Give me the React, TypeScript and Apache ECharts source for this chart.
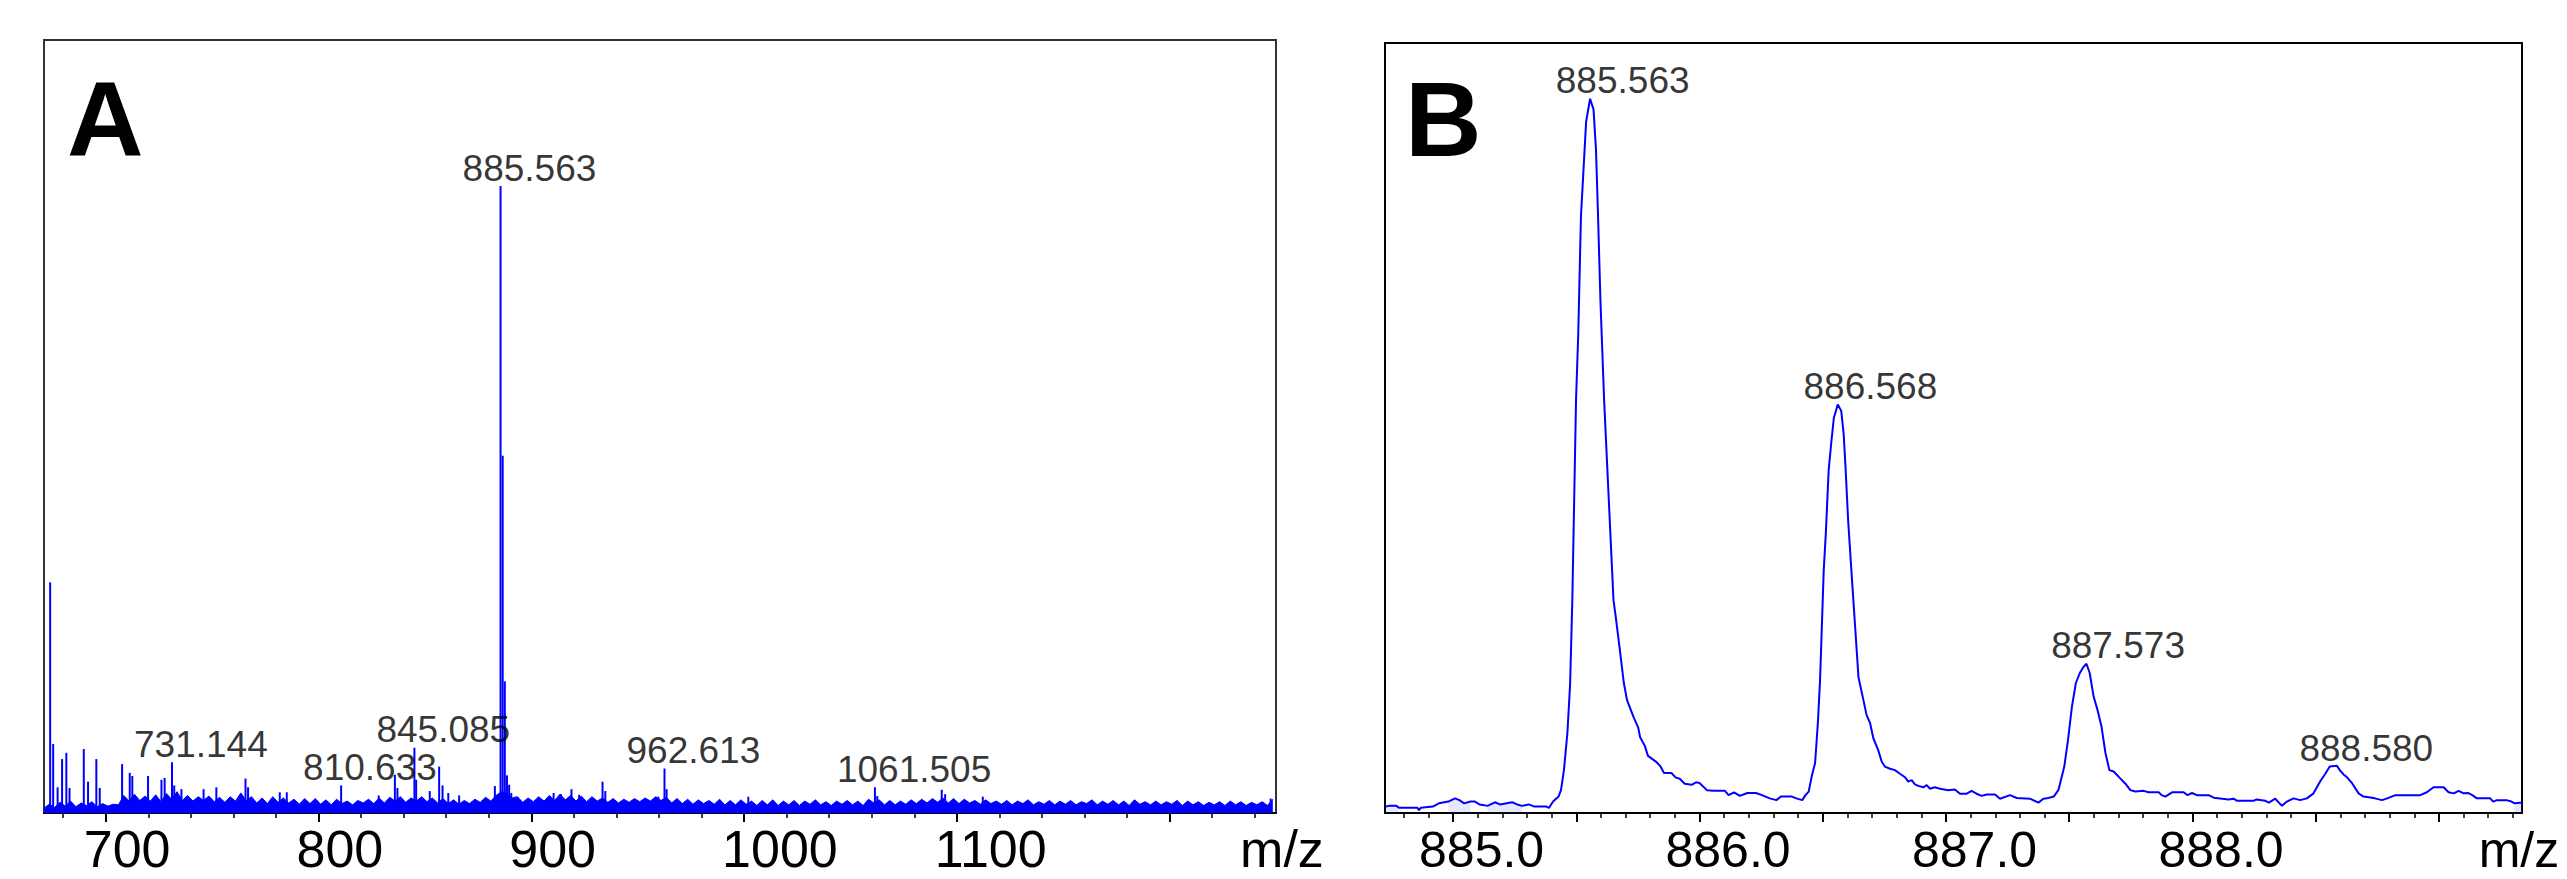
import React, { useEffect, useRef } from "react";
import * as echarts from "echarts";

// ---------------- Panel A : full MS spectrum ----------------
const A_RANGE = [671, 1250];
const A_Y_MAX = 123.3;
const A_MAJOR_TICKS = [700, 800, 900, 1000, 1100, 1200];
const A_MINOR_TICKS = [680, 720, 740, 760, 780, 820, 840, 860, 880, 920, 940, 960, 980, 1020, 1040, 1060, 1080, 1120, 1140, 1160, 1180, 1220, 1240];
const A_TICK_LABELS = [700, 800, 900, 1000, 1100];

// baseline noise sampled every 2.5 m/z from 671
const A_NOISE_START = 671;
const A_NOISE_STEP = 2.5;
const A_NOISE = [
  0.8, 1.4, 0.9, 1.7, 1.1, 1.9, 1.0, 1.6, 1.2, 1.8,
  1.0, 1.5, 1.1, 1.4, 1.3, 2.8, 1.9, 3.0, 2.0, 2.7,
  1.9, 2.9, 1.8, 3.1, 2.2, 3.4, 2.0, 2.8, 1.9, 2.6,
  2.0, 2.7, 1.8, 2.5, 1.7, 2.6, 1.9, 3.2, 2.0, 2.6,
  1.6, 2.4, 1.5, 2.6, 1.7, 2.4, 1.6, 2.2, 1.4, 2.3,
  1.5, 2.3, 1.4, 2.1, 1.3, 2.2, 1.5, 1.9, 1.3, 2.0,
  1.6, 2.2, 1.5, 2.4, 1.6, 2.5, 1.9, 2.6, 1.7, 2.4,
  1.9, 2.6, 1.8, 2.4, 1.6, 2.3, 1.5, 2.1, 1.4, 2.0,
  1.5, 2.2, 1.7, 2.5, 1.9, 2.8, 3.4, 3.1, 2.4, 2.6,
  1.7, 2.4, 1.8, 2.6, 1.9, 2.8, 2.0, 3.0, 2.1, 2.8,
  1.9, 2.7, 1.8, 2.6, 1.9, 2.4, 1.7, 2.3, 1.6, 2.2,
  1.7, 2.3, 1.8, 2.4, 1.9, 2.6, 2.0, 2.5, 1.6, 2.3,
  1.5, 2.2, 1.4, 2.1, 1.5, 2.0, 1.4, 2.2, 1.3, 2.0,
  1.3, 2.1, 1.4, 1.9, 1.2, 2.0, 1.3, 2.1, 1.2, 1.9,
  1.3, 2.0, 1.2, 1.9, 1.4, 2.1, 1.3, 1.8, 1.2, 1.9,
  1.4, 2.0, 1.3, 1.9, 1.2, 2.2, 1.6, 2.1, 1.3, 2.0,
  1.3, 1.9, 1.4, 2.1, 1.5, 2.2, 1.6, 2.3, 1.7, 2.4,
  1.6, 2.3, 1.5, 2.2, 1.6, 2.0, 1.4, 2.1, 1.5, 1.9,
  1.4, 2.0, 1.3, 1.9, 1.5, 2.1, 1.3, 1.8, 1.4, 2.0,
  1.3, 1.9, 1.4, 2.0, 1.3, 1.8, 1.5, 2.1, 1.3, 1.9,
  1.4, 2.0, 1.3, 1.9, 1.2, 2.1, 1.4, 1.8, 1.3, 1.9,
  1.3, 1.8, 1.4, 2.0, 1.2, 1.9, 1.3, 1.8, 1.2, 1.7,
  1.3, 1.8, 1.2, 1.9, 1.3, 1.8, 1.2, 1.7, 1.3, 1.8,
  1.2, 2.2,
];

// centroid sticks [m/z, relative intensity %]
const A_STICKS = [
  [673.9, 36.8], [675.3, 11.0], [677.4, 4.1], [679.5, 8.6], [681.5, 9.6], [683.0, 4.0],
  [689.7, 10.2], [691.7, 5.0], [695.6, 8.6], [697.2, 4.0], [707.7, 7.8], [711.3, 6.4],
  [712.5, 5.9], [719.9, 5.9], [726.2, 5.3], [727.7, 5.6], [731.144, 8.1], [732.2, 4.4],
  [735.6, 3.8], [746.0, 3.8], [752.0, 4.1], [765.7, 5.5], [766.9, 4.1], [781.8, 3.3],
  [785.1, 3.3], [810.633, 4.4], [828.3, 2.8], [835.9, 6.1], [837.1, 4.0], [845.085, 10.4],
  [845.9, 5.3], [852.3, 3.5], [856.7, 7.4], [858.3, 4.4], [861.0, 3.2], [866.1, 2.8],
  [882.9, 4.3], [885.563, 100], [886.568, 57], [887.573, 21], [888.58, 6], [889.6, 4.5],
  [890.6, 3.2], [910.5, 3.2], [914.0, 3.0], [918.9, 3.8], [922.5, 2.9], [933.5, 5.0],
  [934.8, 3.5], [959.7, 2.6], [962.613, 7.1], [963.6, 3.8], [1002.0, 2.6], [1061.505, 4.1],
  [1062.6, 2.7], [1092.9, 3.7], [1094.5, 3.0], [1112.2, 2.6], [1247.5, 2.3],
];
const A_LABELED = [731.144, 810.633, 845.085, 885.563, 962.613, 1061.505];

// ---------------- Panel B : isotope cluster zoom ----------------
const B_RANGE = [884.724, 889.337];
const B_Y_MAX = 107.8;
const B_MAJOR_TICKS = [885.0, 885.5, 886.0, 886.5, 887.0, 887.5, 888.0, 888.5, 889.0];
const B_MINOR_TICKS = [
  884.8, 884.9, 885.1, 885.2, 885.3, 885.4, 885.6, 885.7, 885.8, 885.9,
  886.1, 886.2, 886.3, 886.4, 886.6, 886.7, 886.8, 886.9, 887.1, 887.2, 887.3, 887.4,
  887.6, 887.7, 887.8, 887.9, 888.1, 888.2, 888.3, 888.4, 888.6, 888.7, 888.8, 888.9,
  889.1, 889.2, 889.3,
];
const B_TICK_LABELS = [885.0, 886.0, 887.0, 888.0];

const B_PROFILE = [
  [884.727, 0.9], [884.74, 1.0], [884.77, 1.0], [884.78, 0.75], [884.855, 0.75], [884.862, 0.4],
  [884.87, 0.75], [884.918, 0.9], [884.943, 1.35], [884.981, 1.6], [885.008, 2.05], [885.026, 1.8],
  [885.045, 1.35], [885.071, 1.6], [885.089, 1.6], [885.107, 1.2], [885.126, 1.1], [885.14, 1.0],
  [885.17, 1.5], [885.19, 1.2], [885.24, 1.5], [885.26, 1.2], [885.28, 1.0], [885.307, 1.2],
  [885.33, 0.9], [885.379, 0.9], [885.389, 0.7], [885.406, 1.6], [885.428, 2.3], [885.438, 3.2],
  [885.45, 6.0], [885.464, 11.2], [885.475, 18.0], [885.484, 29.8], [885.499, 57.8], [885.508, 67],
  [885.519, 83.5], [885.53, 90.5], [885.54, 96.8], [885.556, 100], [885.57, 98.5], [885.58, 92.9],
  [885.588, 84], [885.598, 71.8], [885.613, 57.8], [885.651, 29.8], [885.66, 27.5], [885.677, 22.8],
  [885.693, 18.2], [885.706, 15.8], [885.733, 13.4], [885.751, 12.0], [885.759, 10.6], [885.777, 9.5],
  [885.791, 8.0], [885.823, 7.2], [885.84, 6.6], [885.856, 5.6], [885.886, 5.6], [885.904, 4.95],
  [885.92, 4.8], [885.94, 4.1], [885.968, 3.95], [885.986, 4.3], [886.0, 4.2], [886.03, 3.2],
  [886.058, 3.1], [886.103, 3.1], [886.118, 2.5], [886.14, 2.9], [886.164, 2.4], [886.194, 2.8],
  [886.229, 2.8], [886.253, 2.5], [886.285, 2.05], [886.312, 1.8], [886.33, 2.3], [886.375, 2.3],
  [886.393, 2.05], [886.417, 1.8], [886.43, 2.5], [886.443, 3.0], [886.455, 5.1], [886.469, 7.0],
  [886.48, 12.5], [886.489, 18.5], [886.504, 34], [886.513, 39.5], [886.524, 48], [886.535, 52],
  [886.545, 55.3], [886.561, 57.2], [886.575, 56.3], [886.585, 53], [886.593, 48], [886.603, 41],
  [886.618, 33], [886.645, 19], [886.665, 15.8], [886.678, 13.7], [886.692, 12.6], [886.705, 10.5],
  [886.725, 8.8], [886.739, 7.2], [886.752, 6.5], [886.773, 6.2], [886.793, 6.0], [886.813, 5.5],
  [886.834, 5.0], [886.847, 4.4], [886.861, 4.6], [886.874, 4.0], [886.888, 3.8], [886.908, 3.6],
  [886.922, 3.9], [886.935, 3.4], [886.955, 3.6], [886.976, 3.4], [887.009, 3.2], [887.036, 3.3],
  [887.057, 2.7], [887.084, 2.7], [887.104, 3.1], [887.124, 2.7], [887.145, 2.4], [887.165, 2.6],
  [887.199, 2.6], [887.219, 2.0], [887.26, 2.5], [887.287, 2.1], [887.341, 2.0], [887.375, 1.45],
  [887.395, 2.0], [887.41, 2.05], [887.437, 2.3], [887.456, 3.2], [887.48, 6.5], [887.495, 10.2],
  [887.511, 14.9], [887.527, 18.2], [887.543, 19.6], [887.559, 20.5], [887.57, 20.9], [887.583, 19.6],
  [887.599, 16.3], [887.615, 14.4], [887.631, 12.1], [887.647, 8.4], [887.663, 6.0], [887.68, 5.8],
  [887.7, 5.1], [887.728, 4.1], [887.748, 3.2], [887.768, 3.0], [887.802, 3.1], [887.822, 2.9],
  [887.863, 2.9], [887.875, 2.5], [887.89, 2.3], [887.917, 2.9], [887.964, 2.9], [887.98, 2.5],
  [887.998, 2.8], [888.018, 2.5], [888.066, 2.5], [888.086, 2.15], [888.147, 1.9], [888.167, 2.0],
  [888.181, 1.7], [888.248, 1.7], [888.26, 1.9], [888.296, 1.7], [888.31, 1.45], [888.336, 2.0],
  [888.363, 1.0], [888.383, 1.6], [888.41, 2.05], [888.437, 1.8], [888.464, 2.05], [888.491, 2.75],
  [888.518, 4.4], [888.539, 5.5], [888.557, 6.5], [888.586, 6.6], [888.6, 5.9], [888.613, 5.4],
  [888.627, 5.0], [888.647, 4.2], [888.674, 2.75], [888.694, 2.3], [888.715, 2.2], [888.74, 2.05],
  [888.769, 1.8], [888.79, 2.05], [888.823, 2.5], [888.924, 2.5], [888.951, 2.9], [888.978, 3.6],
  [889.019, 3.6], [889.039, 2.9], [889.06, 2.75], [889.08, 3.1], [889.1, 2.75], [889.12, 2.8],
  [889.135, 2.5], [889.154, 2.05], [889.208, 2.05], [889.22, 1.6], [889.235, 1.8], [889.274, 1.8],
  [889.294, 1.6], [889.307, 1.35], [889.327, 1.45], [889.337, 1.45],
];
const B_SHADED = [[884.727, 884.797], [884.972, 885.077], [885.13, 885.292], [889.307, 889.337]];
const B_LABELED = [[885.563, 100], [886.568, 57.2], [887.573, 20.9], [888.58, 6.6]];

// ---------------- layout / style ----------------
const BLUE = "#0000ff";
const ANNOT_FONT = "Liberation Sans";
const AXIS_FONT = "Liberation Sans";
const A_GRID = { left: 44, top: 40, width: 1232, height: 773 };
const B_GRID = { left: 1385, top: 43, width: 1137, height: 770 };
const A_LABEL_SHIFT_PX = 22;
const B_LABEL_SHIFT_PX = 34;

export default function App() {
  const ref = useRef<HTMLDivElement>(null);

  useEffect(() => {
    document.body.style.margin = "0";
    if (!ref.current) return;
    const chart = echarts.init(ref.current, undefined, { renderer: "svg" });

    const aSpan = A_RANGE[1] - A_RANGE[0];
    const aShift = (A_LABEL_SHIFT_PX * aSpan) / A_GRID.width;
    const bSpan = B_RANGE[1] - B_RANGE[0];
    const bShift = (B_LABEL_SHIFT_PX * bSpan) / B_GRID.width;

    const aNoise = A_NOISE.map((v, i) => [A_NOISE_START + i * A_NOISE_STEP, v]);
    const aLabels = A_LABELED.map((mz) => {
      const s = A_STICKS.find((p) => p[0] === mz);
      return [mz, s ? s[1] : 0];
    });
    const inShade = (x: number) => B_SHADED.some((r) => x >= r[0] && x <= r[1]);
    const bShade = B_PROFILE.map((p) => (inShade(p[0]) ? p : [p[0], "-"]));

    const baseAxis = (grid: number, range: number[]) => ({
      type: "value",
      gridIndex: grid,
      min: range[0],
      max: range[1],
      position: "bottom",
      splitLine: { show: false },
    });

    const majorAxis = (grid: number, range: number[], ticks: number[]) => ({
      ...baseAxis(grid, range),
      axisLine: { show: true, lineStyle: { color: "#000", width: 2 } },
      axisTick: { show: true, customValues: ticks, length: 9, lineStyle: { color: "#000", width: 2 } },
      axisLabel: { show: false },
    });
    const minorAxis = (grid: number, range: number[], ticks: number[]) => ({
      ...baseAxis(grid, range),
      axisLine: { show: false },
      axisTick: { show: true, customValues: ticks, length: 5, lineStyle: { color: "#000", width: 1.5 } },
      axisLabel: { show: false },
    });
    const labelAxis = (grid: number, range: number[], shift: number, labels: number[], fmt: (v: number) => string, size: number, margin: number, lineHeight: number) => ({
      ...baseAxis(grid, [range[0] + shift, range[1] + shift]),
      axisLine: { show: false },
      axisTick: { show: false },
      axisLabel: {
        show: true,
        customValues: labels,
        formatter: (v: number) => fmt(v),
        align: "left",
        margin,
        lineHeight,
        color: "#000",
        fontFamily: AXIS_FONT,
        fontSize: size,
      },
    });

    const peakLabel = (dx: number) => ({
      show: true,
      position: "top",
      align: "left",
      distance: 3.8,
      offset: [dx, 0],
      lineHeight: 28,
      color: "#000",
      fontFamily: ANNOT_FONT,
      fontSize: 37,
      formatter: (p: any) => Number(p.value[0]).toFixed(3),
    });

    chart.setOption({
      animation: false,
      backgroundColor: "#fff",
      grid: [
        { ...A_GRID, show: true, borderColor: "#333", borderWidth: 2, backgroundColor: "transparent", containLabel: false, outerBoundsMode: "none" },
        { ...B_GRID, show: true, borderColor: "#000", borderWidth: 2, backgroundColor: "transparent", containLabel: false, outerBoundsMode: "none" },
      ],
      xAxis: [
        majorAxis(0, A_RANGE, A_MAJOR_TICKS),
        minorAxis(0, A_RANGE, A_MINOR_TICKS),
        labelAxis(0, A_RANGE, aShift, A_TICK_LABELS, (v) => String(Math.round(v)), 52, 16, 40),
        majorAxis(1, B_RANGE, B_MAJOR_TICKS),
        minorAxis(1, B_RANGE, B_MINOR_TICKS),
        labelAxis(1, B_RANGE, bShift, B_TICK_LABELS, (v) => v.toFixed(1), 50, 19.5, 34),
      ],
      yAxis: [
        { type: "value", gridIndex: 0, min: 0, max: A_Y_MAX, show: false },
        { type: "value", gridIndex: 1, min: 0, max: B_Y_MAX, show: false },
      ],
      series: [
        {
          name: "A noise",
          type: "line",
          xAxisIndex: 0,
          yAxisIndex: 0,
          data: aNoise,
          symbol: "none",
          lineStyle: { color: BLUE, width: 1 },
          areaStyle: { color: BLUE, opacity: 1 },
          silent: true,
        },
        {
          name: "A sticks",
          type: "bar",
          xAxisIndex: 0,
          yAxisIndex: 0,
          data: A_STICKS,
          barWidth: 2,
          itemStyle: { color: BLUE },
          silent: true,
        },
        {
          name: "A labels",
          type: "scatter",
          xAxisIndex: 0,
          yAxisIndex: 0,
          data: aLabels,
          symbolSize: 0,
          label: peakLabel(-38),
          silent: true,
        },
        {
          name: "B shade",
          type: "line",
          xAxisIndex: 3,
          yAxisIndex: 1,
          data: bShade,
          symbol: "none",
          connectNulls: false,
          lineStyle: { width: 0 },
          areaStyle: { color: "rgba(60,60,255,0.18)" },
          silent: true,
        },
        {
          name: "B profile",
          type: "line",
          xAxisIndex: 3,
          yAxisIndex: 1,
          data: B_PROFILE,
          symbol: "none",
          lineStyle: { color: BLUE, width: 2 },
          silent: true,
        },
        {
          name: "B labels",
          type: "scatter",
          xAxisIndex: 3,
          yAxisIndex: 1,
          data: B_LABELED,
          symbolSize: 0,
          label: peakLabel(-36),
          silent: true,
        },
      ],
      graphic: [
        { type: "text", style: { text: "A", x: 67, y: 66, font: `bold 106px "${AXIS_FONT}"`, fill: "#000", textAlign: "left", align: "left", textVerticalAlign: "top", verticalAlign: "top" } },
        { type: "text", style: { text: "B", x: 1405, y: 66, font: `bold 106px "${AXIS_FONT}"`, fill: "#000", textAlign: "left", align: "left", textVerticalAlign: "top", verticalAlign: "top" } },
        { type: "text", style: { text: "m/z", x: 1282, y: 829, lineHeight: 40, font: `52px "${AXIS_FONT}"`, fill: "#000", textAlign: "center", align: "center", textVerticalAlign: "top", verticalAlign: "top" } },
        { type: "text", style: { text: "m/z", x: 2519, y: 832, lineHeight: 36, font: `50px "${AXIS_FONT}"`, fill: "#000", textAlign: "center", align: "center", textVerticalAlign: "top", verticalAlign: "top" } },
      ],
    });

    return () => chart.dispose();
  }, []);

  return <div ref={ref} style={{ width: 2567, height: 879 }} />;
}
